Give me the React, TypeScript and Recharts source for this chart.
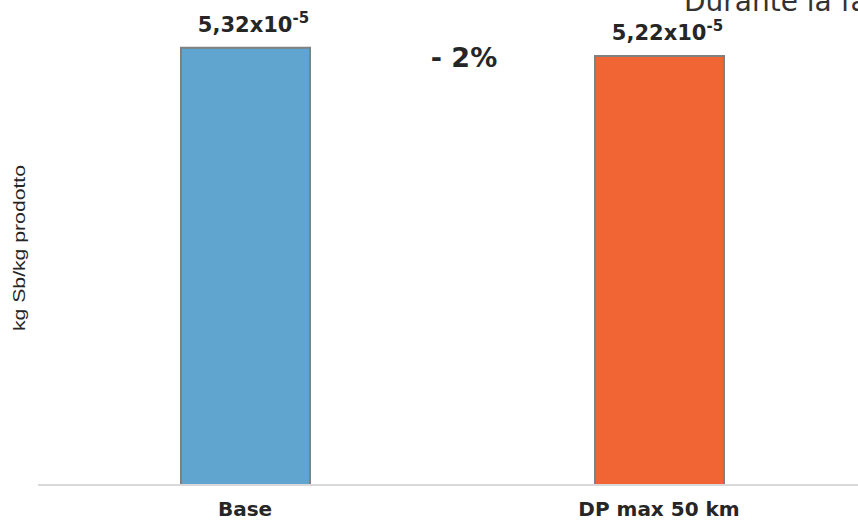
import { BarChart, Bar, XAxis, YAxis, LabelList, Cell } from 'recharts';

const categories = ['Base', 'DP max 50 km'];
const values = [5.32e-5, 5.22e-5];
const barColors = ['#5fa5cf', '#f16535'];
const yDomain = [0, 5.5e-5];
const changeLabel = '- 2%';
const yAxisTitle = 'kg Sb/kg prodotto';
const cornerTitle = 'Durante la fase di produzione';

const data = categories.map((name, i) => ({ name, value: values[i] }));

const FONT_BOLD = '"DejaVu Sans", Verdana, sans-serif';

// "5,32x10^-5" style label above each bar
function ValueLabel(props: any) {
  const { x, y, width, value } = props;
  const mant = (value / 1e-5).toFixed(2).replace('.', ',');
  return (
    <text
      x={x + width / 2 + 8}
      y={y - 16}
      textAnchor="middle"
      fontFamily={FONT_BOLD}
      fontWeight="bold"
      fontSize={21}
      fill="#262626"
    >
      {mant}x10
      <tspan fontSize={15} dy={-9}>
        -5
      </tspan>
    </text>
  );
}

function CategoryTick(props: any) {
  const { x, y, payload } = props;
  return (
    <text
      x={x}
      y={y + 23}
      textAnchor="middle"
      fontFamily={FONT_BOLD}
      fontWeight="bold"
      fontSize={20}
      fill="#262626"
    >
      {payload.value}
    </text>
  );
}

export default function App() {
  return (
    <div
      style={{
        position: 'absolute',
        left: 0,
        top: 0,
        width: 858,
        height: 521,
        overflow: 'hidden',
        background: '#fff',
      }}
    >
      <BarChart
        width={866}
        height={521}
        data={data}
        margin={{ top: 33, right: 0, bottom: 0, left: 38 }}
        barCategoryGap={0}
      >
        <XAxis
          dataKey="name"
          height={36}
          tickLine={false}
          axisLine={{ stroke: '#d9d9d9', strokeWidth: 2 }}
          tick={<CategoryTick />}
          interval={0}
        />
        <YAxis hide domain={yDomain} />
        <Bar dataKey="value" barSize={129} stroke="#808080" strokeWidth={2} isAnimationActive={false}>
          {data.map((_, idx) => (
            <Cell key={idx} fill={barColors[idx]} />
          ))}
          <LabelList dataKey="value" content={<ValueLabel />} />
        </Bar>
        <text
          x={464}
          y={67}
          textAnchor="middle"
          fontFamily={FONT_BOLD}
          fontWeight="bold"
          fontSize={27}
          fill="#262626"
        >
          {changeLabel}
        </text>
        <text
          transform="translate(25, 248) rotate(-90)"
          textAnchor="middle"
          fontFamily='"Liberation Sans", Arial, sans-serif'
          fontSize={16}
          fill="#262626"
          textLength={166}
          lengthAdjust="spacingAndGlyphs"
        >
          {yAxisTitle}
        </text>
        <text x={684} y={11} fontFamily={FONT_BOLD} fontSize={28} fill="#333">
          {cornerTitle}
        </text>
      </BarChart>
    </div>
  );
}
